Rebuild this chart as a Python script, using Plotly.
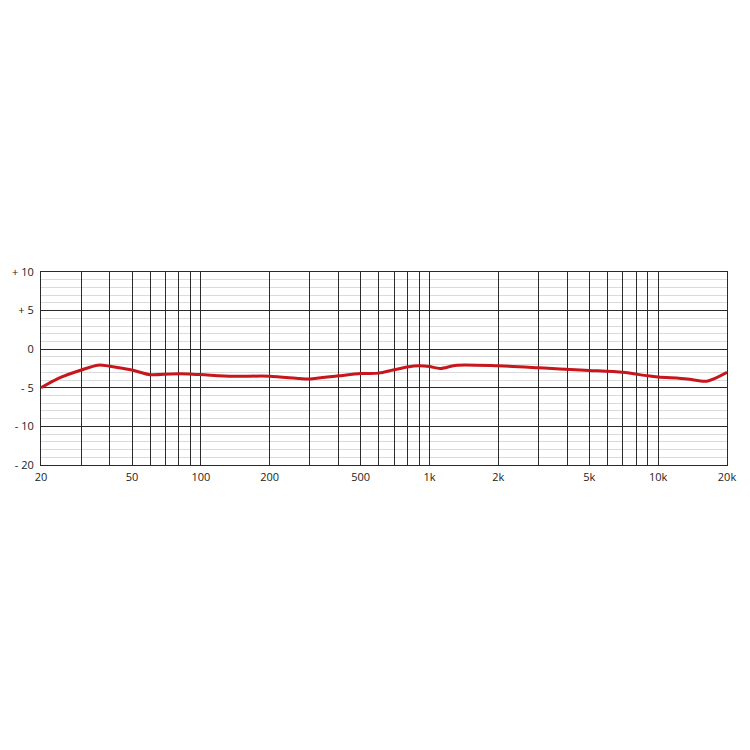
import plotly.graph_objects as go

freq_hz = [20, 23.7, 30, 35.5, 40, 50, 60, 74, 88, 107, 138, 200, 271, 300, 400, 500, 600,
           692, 800, 900, 1000, 1111, 1319, 2000, 3000, 3717, 5000, 7000, 9000, 10000,
           13370, 16340, 20000]
response_db = [-5.0, -3.8, -2.7, -2.07, -2.2, -2.7, -3.3, -3.2, -3.2, -3.35, -3.5, -3.5, -3.8,
               -3.85, -3.45, -3.15, -3.1, -2.7, -2.3, -2.15, -2.25, -2.5, -2.07, -2.15, -2.4,
               -2.55, -2.75, -3.0, -3.45, -3.6, -3.85, -4.15, -3.0]

x_grid = [20, 30, 40, 50, 60, 70, 80, 90, 100, 200, 300, 400, 500, 600, 700, 800, 900,
          1000, 2000, 3000, 4000, 5000, 6000, 7000, 8000, 9000, 10000, 20000]
x_labels = {20: "20", 50: "50", 100: "100", 200: "200", 500: "500", 1000: "1k",
            2000: "2k", 5000: "5k", 10000: "10k", 20000: "20k"}
x_ticktext = [x_labels.get(v, "") for v in x_grid]

y_tickvals = [-15, -10, -5, 0, 5, 10]
y_ticktext = ["- 20", "- 10", "- 5", "0", "+ 5", "+ 10"]

fig = go.Figure()
fig.add_trace(go.Scatter(
    x=freq_hz, y=response_db, mode="lines",
    line=dict(color="#c8161d", width=3, shape="spline", smoothing=0.8),
    hoverinfo="skip", showlegend=False,
))

fig.update_layout(
    width=750, height=750,
    margin=dict(l=33, r=31, t=264, b=293),
    paper_bgcolor="white", plot_bgcolor="white",
    font=dict(family="Open Sans, Liberation Sans, sans-serif", size=11, color="#222222"),
    xaxis=dict(
        type="log", range=[1.30103, 4.30103], automargin=False,
        tickmode="array", tickvals=x_grid, ticktext=x_ticktext,
        showgrid=True, gridcolor="#2a2a2a", gridwidth=1,
        showline=True, linecolor="#2a2a2a", linewidth=1, mirror=True,
        ticks="outside", ticklen=2, tickcolor="rgba(0,0,0,0)",
        zeroline=False, fixedrange=True,
    ),
    yaxis=dict(
        range=[-15, 10], automargin=False,
        tickmode="array", tickvals=y_tickvals, ticktext=y_ticktext,
        showgrid=True, gridcolor="#2a2a2a", gridwidth=1,
        showline=True, linecolor="#2a2a2a", linewidth=1, mirror=True,
        ticks="outside", ticklen=4, tickcolor="rgba(0,0,0,0)",
        zeroline=False, fixedrange=True,
        minor=dict(dtick=1, tick0=0, showgrid=True, gridcolor="#dadada", gridwidth=1),
    ),
)

fig.write_html("out.html")
